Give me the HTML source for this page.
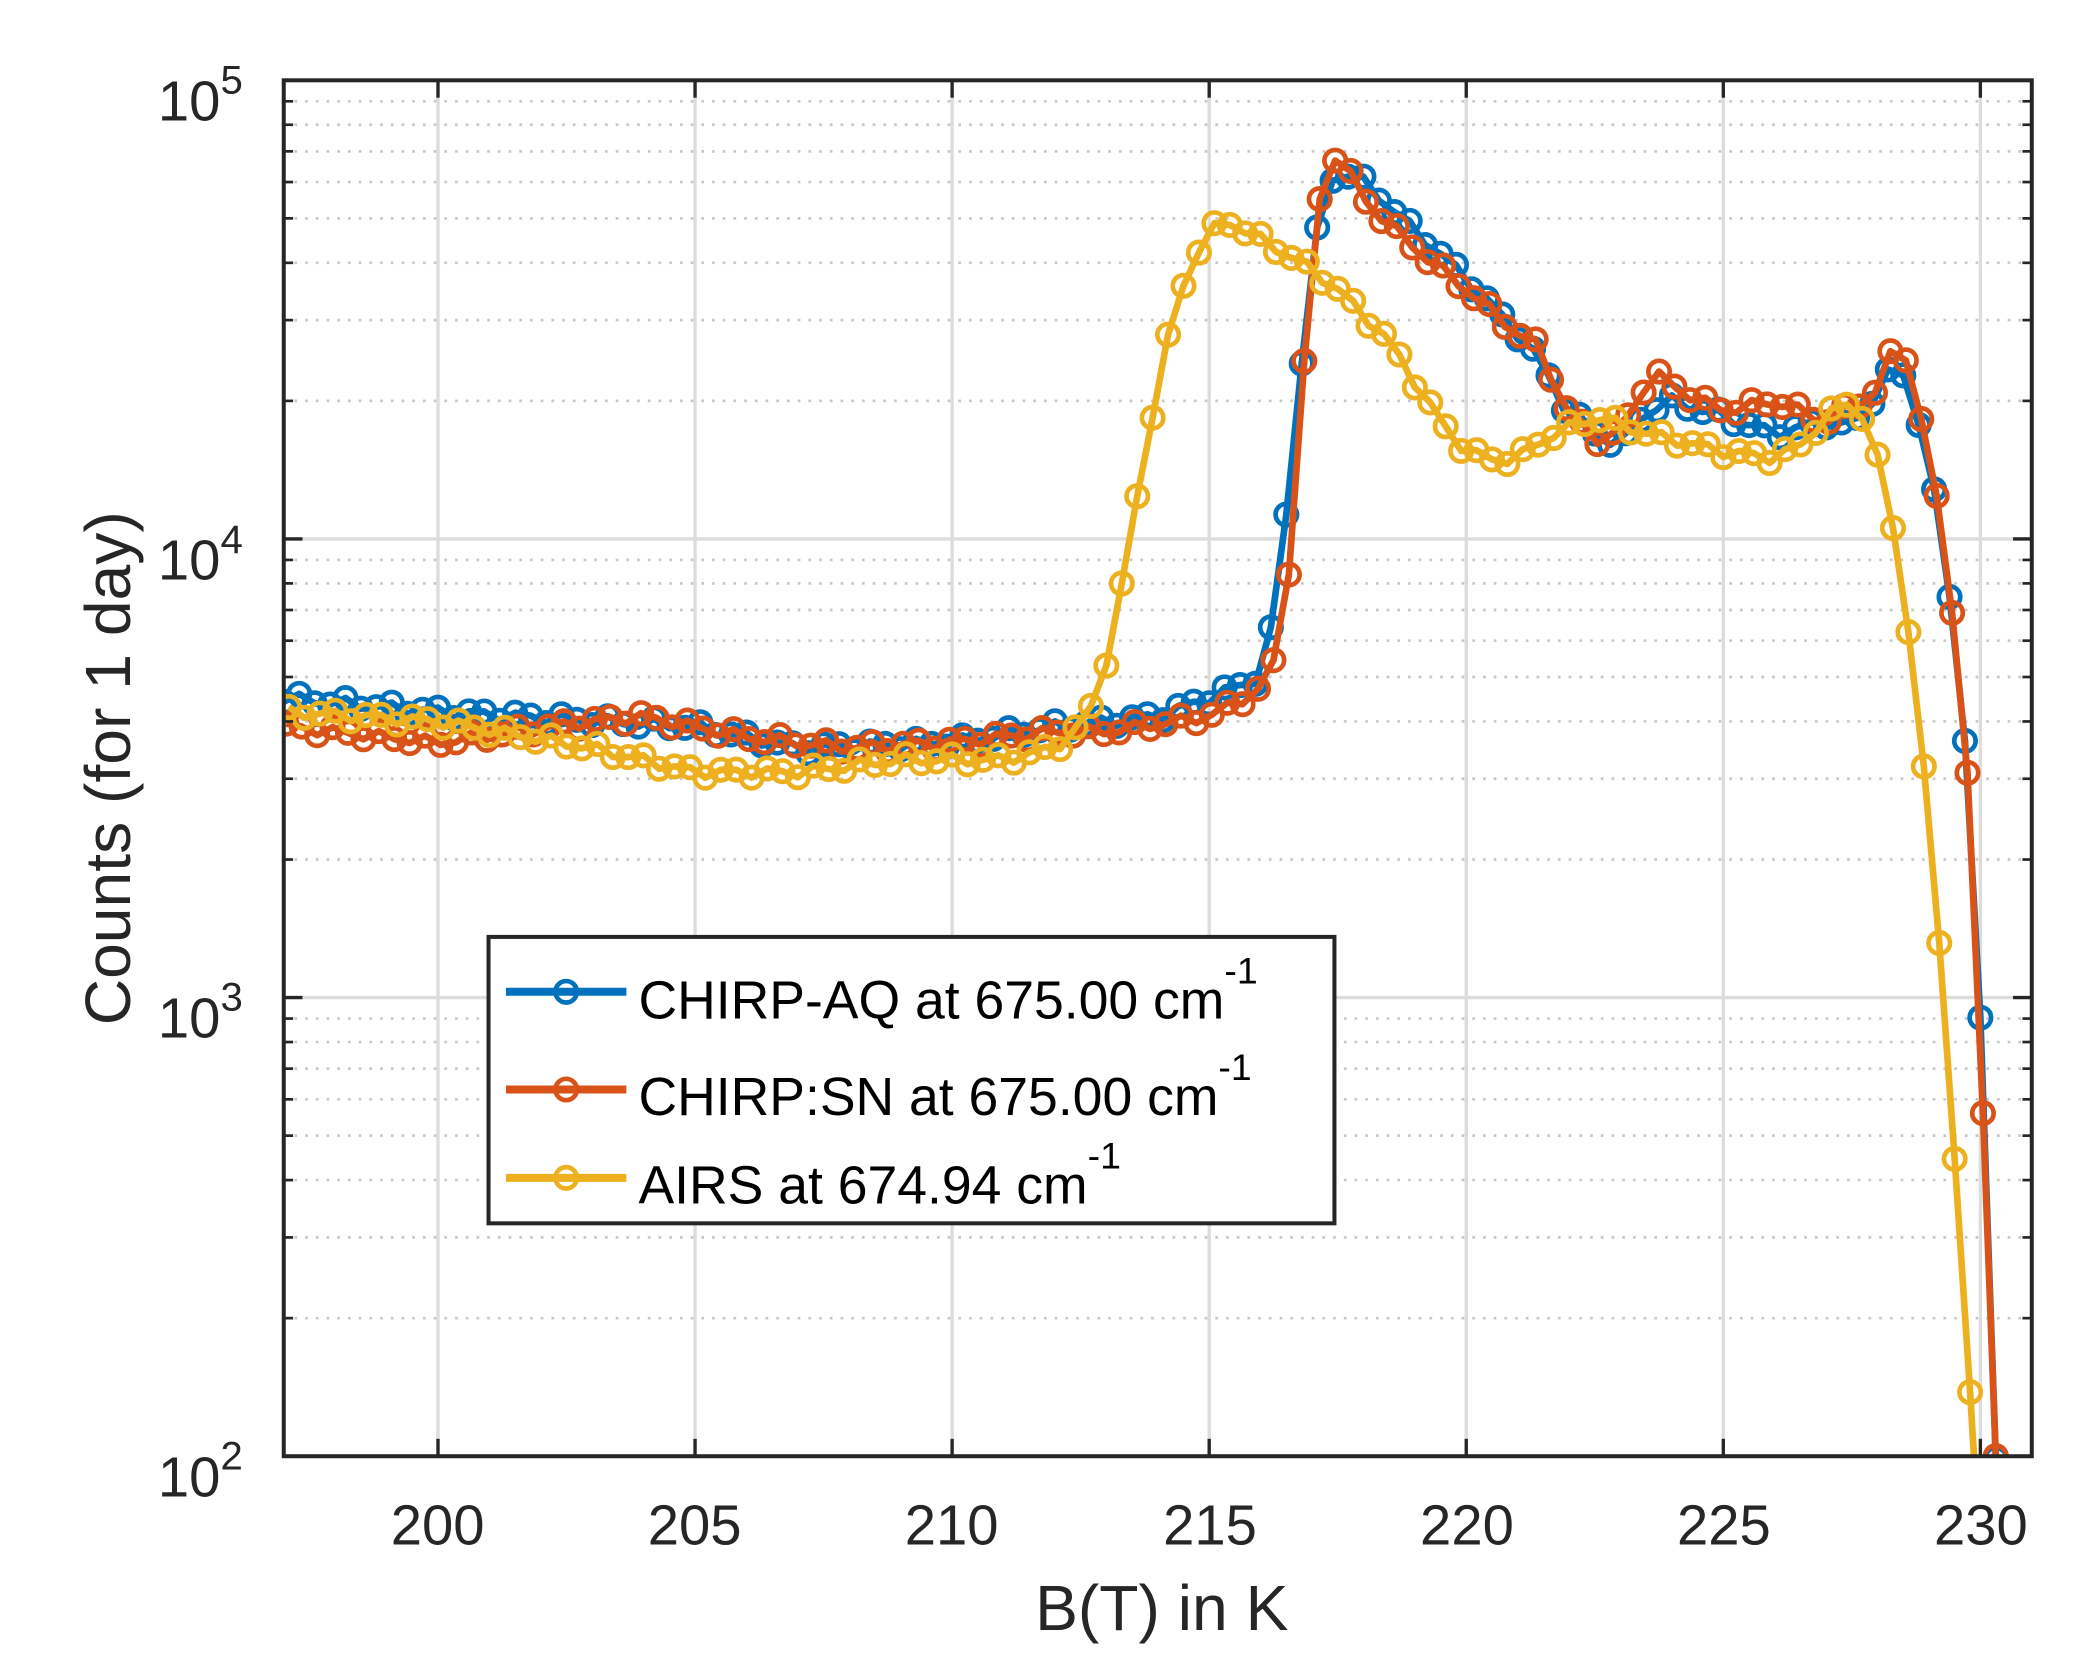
<!DOCTYPE html>
<html><head><meta charset="utf-8"><style>html,body{margin:0;padding:0;background:#fff}svg{display:block}</style></head>
<body>
<svg id="s" width="2088" height="1659" viewBox="0 0 1560 1239.5" preserveAspectRatio="none" xmlns="http://www.w3.org/2000/svg" font-family="Liberation Sans, sans-serif">
<defs><clipPath id="cp"><rect x="212" y="60" width="1306" height="1028"/></clipPath></defs>
<rect width="1560" height="1240" fill="#fff"/>
<g id="grid"></g>
<g id="data" clip-path="url(#cp)"></g>
<rect x="212" y="60" width="1306" height="1028" fill="none" stroke="#262626" stroke-width="3"/>
<g id="ticks"></g>
<g fill="#262626" font-size="42">
<text x="327" y="1154" text-anchor="middle">200</text>
<text x="519" y="1154" text-anchor="middle">205</text>
<text x="711" y="1154" text-anchor="middle">210</text>
<text x="904" y="1154" text-anchor="middle">215</text>
<text x="1096" y="1154" text-anchor="middle">220</text>
<text x="1288" y="1154" text-anchor="middle">225</text>
<text x="1480" y="1154" text-anchor="middle">230</text>
<text x="118" y="90">10<tspan font-size="30" dy="-20">5</tspan></text>
<text x="118" y="433">10<tspan font-size="30" dy="-20">4</tspan></text>
<text x="118" y="775">10<tspan font-size="30" dy="-20">3</tspan></text>
<text x="118" y="1118">10<tspan font-size="30" dy="-20">2</tspan></text>
<text x="868" y="1218" text-anchor="middle" font-size="48">B(T) in K</text>
<text transform="translate(97,574) rotate(-90)" text-anchor="middle" font-size="48">Counts (for 1 day)</text>
</g>
<rect x="365" y="700" width="632" height="214" fill="#fff" stroke="#262626" stroke-width="3"/>
<g font-size="40" fill="#000">
<line x1="378" y1="741" x2="468" y2="741" stroke="#0072BD" stroke-width="6"/><circle cx="423" cy="741" r="8" fill="none" stroke="#0072BD" stroke-width="3.5"/>
<text x="477" y="761">CHIRP-AQ at 675.00 cm<tspan font-size="28" dy="-26">-1</tspan></text>
<line x1="378" y1="814" x2="468" y2="814" stroke="#D95319" stroke-width="6"/><circle cx="423" cy="814" r="8" fill="none" stroke="#D95319" stroke-width="3.5"/>
<text x="477" y="833">CHIRP:SN at 675.00 cm<tspan font-size="28" dy="-26">-1</tspan></text>
<line x1="378" y1="880" x2="468" y2="880" stroke="#EDB120" stroke-width="6"/><circle cx="423" cy="880" r="8" fill="none" stroke="#EDB120" stroke-width="3.5"/>
<text x="477" y="899">AIRS at 674.94 cm<tspan font-size="28" dy="-26">-1</tspan></text>
</g>
</svg>
<script>
const NS="http://www.w3.org/2000/svg";
const X=x=>212+(x-197)*1306/34;
const Y=v=>1088-(Math.log10(v)-2)*1028/3;
function el(p,t,a){const e=document.createElementNS(NS,t);for(const k in a)e.setAttribute(k,a[k]);p.appendChild(e);return e;}
const g=document.getElementById('grid'),tk=document.getElementById('ticks');
for(let d=2;d<5;d++)for(let m=2;m<10;m++){const y=Y(m*Math.pow(10,d));
 el(g,'line',{x1:212,x2:1518,y1:y,y2:y,stroke:'#c8c8c8','stroke-width':2,'stroke-dasharray':'2 6'});
 el(tk,'line',{x1:212,x2:219,y1:y,y2:y,stroke:'#262626','stroke-width':2});
 el(tk,'line',{x1:1511,x2:1518,y1:y,y2:y,stroke:'#262626','stroke-width':2});}
for(let d=3;d<5;d++){const y=Y(Math.pow(10,d));el(g,'line',{x1:212,x2:1518,y1:y,y2:y,stroke:'#dcdcdc','stroke-width':2.5});}
for(let d=2;d<=5;d++){const y=Y(Math.pow(10,d));el(tk,'line',{x1:212,x2:226,y1:y,y2:y,stroke:'#262626','stroke-width':2.5});el(tk,'line',{x1:1504,x2:1518,y1:y,y2:y,stroke:'#262626','stroke-width':2.5});}
for(let x=200;x<=230;x+=5){const px=X(x);el(g,'line',{x1:px,x2:px,y1:60,y2:1088,stroke:'#dcdcdc','stroke-width':2.5});
 el(tk,'line',{x1:px,x2:px,y1:1088,y2:1075,stroke:'#262626','stroke-width':2.5});el(tk,'line',{x1:px,x2:px,y1:60,y2:73,stroke:'#262626','stroke-width':2.5});}
const S=[
["#0072BD",[[197,4500],[200,4200],[205,3900],[207,3500],[210,3600],[212,3900],[214,4100],[215,4500],[216,5000],[216.3,7000],[216.6,14500],[216.9,32000],[217.2,56000],[217.5,64000],[218,60000],[219,47000],[220,37000],[221,28000],[221.5,24000],[221.8,20000],[222.5,17000],[223,16000],[223.5,19000],[224,20000],[225,18500],[226,17000],[227,18000],[227.5,17500],[228,21000],[228.3,24000],[228.6,22000],[228.9,16500],[229.3,9500],[229.7,3700],[230,880],[230.3,100]]],
["#D95319",[[197,3900],[199,3700],[200,3600],[203,4000],[204,4100],[206,3700],[208,3500],[210,3600],[212,3800],[213,3800],[215,4100],[216,4700],[216.3,5500],[216.6,9400],[216.9,29000],[217.2,62000],[217.5,70000],[218,55000],[219,43000],[220,35000],[221,28000],[221.5,26000],[221.8,20000],[222.5,16500],[223,17000],[223.5,22000],[223.7,23000],[224,21500],[225,19000],[226,20000],[226.5,19000],[227,18000],[228,21000],[228.3,26000],[228.6,25000],[228.9,17000],[229.3,10000],[229.7,4000],[230,780],[230.3,100]]],
["#EDB120",[[197,4200],[200,4000],[203,3500],[205,3100],[207,3100],[209,3300],[211,3300],[212,3500],[212.6,4000],[212.9,4900],[213.2,6700],[213.5,10700],[213.8,16500],[214.1,24500],[214.4,33500],[214.7,41000],[215,47000],[215.4,49000],[216,45000],[216.8,40000],[217.5,35000],[218.5,27000],[219,22000],[219.5,18000],[220,15500],[220.6,14800],[221,15000],[221.5,16500],[222.5,18500],[223.5,17000],[225,15500],[226,15000],[226.5,16000],[227,18500],[227.5,20000],[227.8,18000],[228.1,13500],[228.4,9500],[228.7,5200],[229,2400],[229.3,1000],[229.6,300],[229.9,90]]]];
const dg=document.getElementById('data');
S.forEach(([c,k],si)=>{
 const end=k[k.length-1][0];const pts=[];
 for(let x=197+si*0.05;x<=end+1e-6;x+=0.3){let i=0;while(i<k.length-2&&k[i+1][0]<x)i++;
  const [x0,v0]=k[i],[x1,v1]=k[i+1];const t=Math.min(1,Math.max(0,(x-x0)/(x1-x0)));
  let lv=Math.log10(v0)+t*(Math.log10(v1)-Math.log10(v0));lv+=(Math.sin(x*7.3+si)*0.012);
  pts.push([X(x),Y(Math.pow(10,lv))]);}
 pts.push([X(end),Y(k[k.length-1][1])]);
 el(dg,'polyline',{points:pts.map(p=>p.join(',')).join(' '),fill:'none',stroke:c,'stroke-width':5,'stroke-linejoin':'round'});
 pts.forEach(p=>el(dg,'circle',{cx:p[0],cy:p[1],r:8,fill:'none',stroke:c,'stroke-width':3.5}));
});
</script>
</body></html>
